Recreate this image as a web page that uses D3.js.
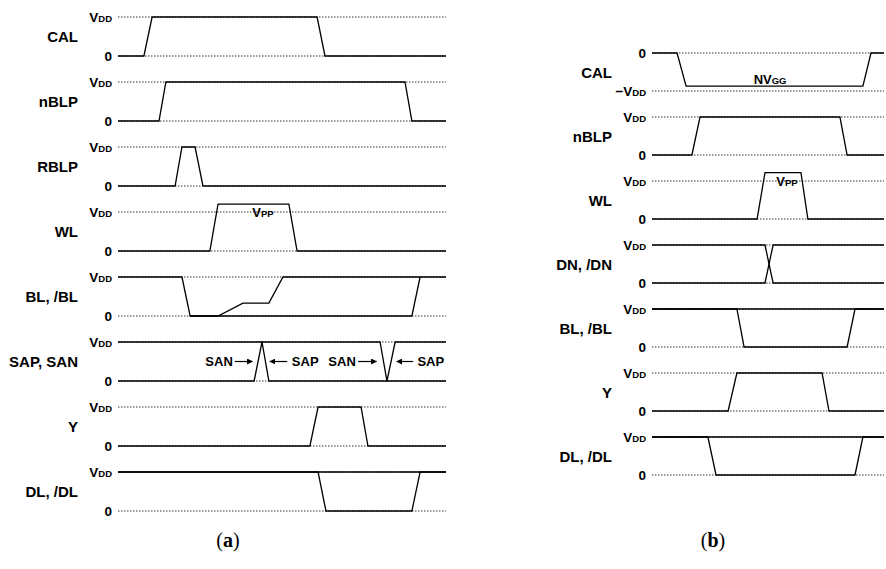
<!DOCTYPE html>
<html>
<head>
<meta charset="utf-8">
<script src="https://cdn.jsdelivr.net/npm/d3@7"></script>
<style>
  body { margin: 0; background: #fff; }
  text { font-family: "Liberation Sans", Arial, sans-serif; fill: #000; }
</style>
</head>
<body>
<script>
// timing diagrams (a) and (b), time axis 0..100 per panel

// panel (a)
const namesA = ["CAL", "nBLP", "RBLP", "WL", "BL, /BL", "SAP, SAN", "Y", "DL, /DL"];
const levelsA = [[0, 1], [0, 1], [0, 1], [0, 1], [0, 1], [0, 1], [0, 1], [0, 1]];
const ticksA = [["0", "V|DD"], ["0", "V|DD"], ["0", "V|DD"], ["0", "V|DD"],
                ["0", "V|DD"], ["0", "V|DD"], ["0", "V|DD"], ["0", "V|DD"]];
// each row: list of traces, trace = [time, level] points
const tracesA = [
    [[[0, 0], [7.9, 0], [10.4, 1], [60.7, 1], [63.1, 0], [100, 0]]],
    [[[0, 0], [12.5, 0], [14.6, 1], [87.5, 1], [89.6, 0], [100, 0]]],
    [[[0, 0], [17.4, 0], [19.5, 1], [23.5, 1], [25.9, 0], [100, 0]]],
    [[[0, 0], [28.0, 0], [30.5, 1.2], [52.1, 1.2], [54.6, 0], [100, 0]]],
    [[[0, 1], [19.5, 1], [22.0, 0], [30.5, 0], [38.1, 0.33], [46.0, 0.33], [50.3, 1], [100, 1]],
     [[22.0, 0], [89.6, 0], [92.1, 1]]],
    [[[0, 1], [43.9, 1], [46.0, 0], [82.0, 0], [84.5, 1], [100, 1]],
     [[0, 0], [41.5, 0], [43.9, 1], [79.9, 1], [82.0, 0], [100, 0]]],
    [[[0, 0], [58.5, 0], [61.0, 1], [74.1, 1], [76.2, 0], [100, 0]]],
    [[[0, 1], [100, 1]],
     [[0, 1], [61.0, 1], [63.4, 0], [89.6, 0], [92.1, 1], [100, 1]]]
];
const notesA = [
    { row: 3, t: 44.2, v: 1, text: "V|PP", anchor: "middle" },
    { row: 5, t: 35.0, v: 0.5, text: "SAN", anchor: "end" },
    { row: 5, t: 53.0, v: 0.5, text: "SAP", anchor: "start" },
    { row: 5, t: 72.5, v: 0.5, text: "SAN", anchor: "end" },
    { row: 5, t: 91.3, v: 0.5, text: "SAP", anchor: "start" }
];
const arrowsA = [
    { row: 5, t0: 35.6, t1: 41.0, v: 0.5 },
    { row: 5, t0: 51.6, t1: 46.3, v: 0.5 },
    { row: 5, t0: 73.2, t1: 78.8, v: 0.5 },
    { row: 5, t0: 90.0, t1: 85.0, v: 0.5 }
];

// panel (b)
const namesB = ["CAL", "nBLP", "WL", "DN, /DN", "BL, /BL", "Y", "DL, /DL"];
const levelsB = [[-1, 0], [0, 1], [0, 1], [0, 1], [0, 1], [0, 1], [0, 1]];
const ticksB = [["\u2212V|DD", "0"], ["0", "V|DD"], ["0", "V|DD"], ["0", "V|DD"],
                ["0", "V|DD"], ["0", "V|DD"], ["0", "V|DD"]];
const tracesB = [
    [[[0, 0], [10.8, 0], [14.7, -0.87], [90.9, -0.87], [94.4, 0], [100, 0]]],
    [[[0, 0], [17.2, 0], [20.7, 1], [81.0, 1], [84.1, 0], [100, 0]]],
    [[[0, 0], [45.3, 0], [48.7, 1.22], [64.2, 1.22], [67.2, 0], [100, 0]]],
    [[[0, 1], [48.7, 1], [52.2, 0], [100, 0]],
     [[0, 0], [48.7, 0], [52.2, 1], [100, 1]]],
    [[[0, 1], [100, 1]],
     [[0, 1], [36.6, 1], [39.7, 0], [84.1, 0], [87.5, 1], [100, 1]]],
    [[[0, 0], [32.8, 0], [36.6, 1], [73.3, 1], [76.3, 0], [100, 0]]],
    [[[0, 1], [100, 1]],
     [[0, 1], [24.1, 1], [27.6, 0], [87.5, 0], [90.9, 1], [100, 1]]]
];
const notesB = [
    { row: 0, t: 50.9, v: -0.7, text: "NV|GG", anchor: "middle" },
    { row: 2, t: 58.2, v: 1, text: "V|PP", anchor: "middle" }
];

class TimingDiagram {
    #x;

    constructor(svg, opts) {
        this.o = opts;
        this.g = svg.append('g');
        this.#x = d3.scaleLinear([0, 100], [opts.x0, opts.x1]);
    }

    #y(i, v) {
        const [lo, hi] = this.levels[i];
        const top = this.o.top + i * this.o.pitch;
        return d3.scaleLinear([lo, hi], [top + this.o.amp, top])(v);
    }

    // "V|DD" -> V with small DD
    #label(sel, str, big, small) {
        const [main, sub] = str.split('|');
        sel.append('tspan').attr('font-size', big).text(main);
        if (sub) sel.append('tspan').attr('font-size', small).text(sub);
    }

    render(names, levels, ticks, traces, notes, arrows) {
        this.levels = levels;
        const x = this.#x, o = this.o;

        names.forEach((name, i) => {
            const row = this.g.append('g');

            row.append('text')
                .attr('x', o.labelX)
                .attr('y', (this.#y(i, levels[i][0]) + this.#y(i, levels[i][1])) / 2 + 5.5)
                .attr('text-anchor', 'end')
                .attr('font-size', 15)
                .attr('font-weight', 'bold')
                .text(name);

            levels[i].forEach((lv, k) => {
                const yy = this.#y(i, lv);
                row.append('line')
                    .attr('x1', x(0)).attr('x2', x(100))
                    .attr('y1', yy).attr('y2', yy)
                    .attr('stroke', '#333')
                    .attr('stroke-width', 1)
                    .attr('stroke-dasharray', '1.5,1.5');
                const t = row.append('text')
                    .attr('x', x(0) - 6)
                    .attr('y', yy + 5)
                    .attr('text-anchor', 'end')
                    .attr('font-weight', 'bold');
                this.#label(t, ticks[i][k], 13.5, 9.5);
            });

            row.selectAll('path')
                .data(traces[i])
                .join('path')
                .attr('d', d3.line().x(d => x(d[0])).y(d => this.#y(i, d[1])))
                .attr('fill', 'none')
                .attr('stroke', '#000')
                .attr('stroke-width', 1.3);
        });

        (notes || []).forEach(n => {
            const t = this.g.append('text')
                .attr('x', x(n.t))
                .attr('y', this.#y(n.row, n.v) + 4.5)
                .attr('text-anchor', n.anchor)
                .attr('font-weight', 'bold');
            this.#label(t, n.text, 13, 9.5);
        });

        (arrows || []).forEach(a => {
            const yy = this.#y(a.row, a.v);
            this.g.append('line')
                .attr('x1', x(a.t0)).attr('x2', x(a.t1))
                .attr('y1', yy).attr('y2', yy)
                .attr('stroke', '#000')
                .attr('stroke-width', 1.2)
                .attr('marker-end', 'url(#head)');
        });

        this.g.append('text')
            .attr('x', o.capX)
            .attr('y', 547)
            .attr('text-anchor', 'middle')
            .style('font-family', '"Liberation Serif", "DejaVu Serif", serif')
            .attr('font-size', 20)
            .call(s => {
                s.append('tspan').text('(');
                s.append('tspan').attr('font-weight', 'bold').text(o.cap);
                s.append('tspan').text(')');
            });
    }
}

const svg = d3.select('body').append('svg')
    .attr('width', 886)
    .attr('height', 569);

svg.append('defs').append('marker')
    .attr('id', 'head')
    .attr('viewBox', '0 0 10 10')
    .attr('refX', 9).attr('refY', 5)
    .attr('markerWidth', 6).attr('markerHeight', 6)
    .attr('markerUnits', 'userSpaceOnUse')
    .attr('orient', 'auto')
    .append('path')
    .attr('d', 'M0,0L10,5L0,10Z')
    .attr('fill', '#000');

new TimingDiagram(svg, { x0: 118, x1: 446, top: 17, pitch: 65, amp: 39, labelX: 78, capX: 228, cap: 'a' })
    .render(namesA, levelsA, ticksA, tracesA, notesA, arrowsA);

new TimingDiagram(svg, { x0: 652, x1: 884, top: 53, pitch: 64, amp: 38, labelX: 612, capX: 713, cap: 'b' })
    .render(namesB, levelsB, ticksB, tracesB, notesB);
</script>
</body>
</html>
